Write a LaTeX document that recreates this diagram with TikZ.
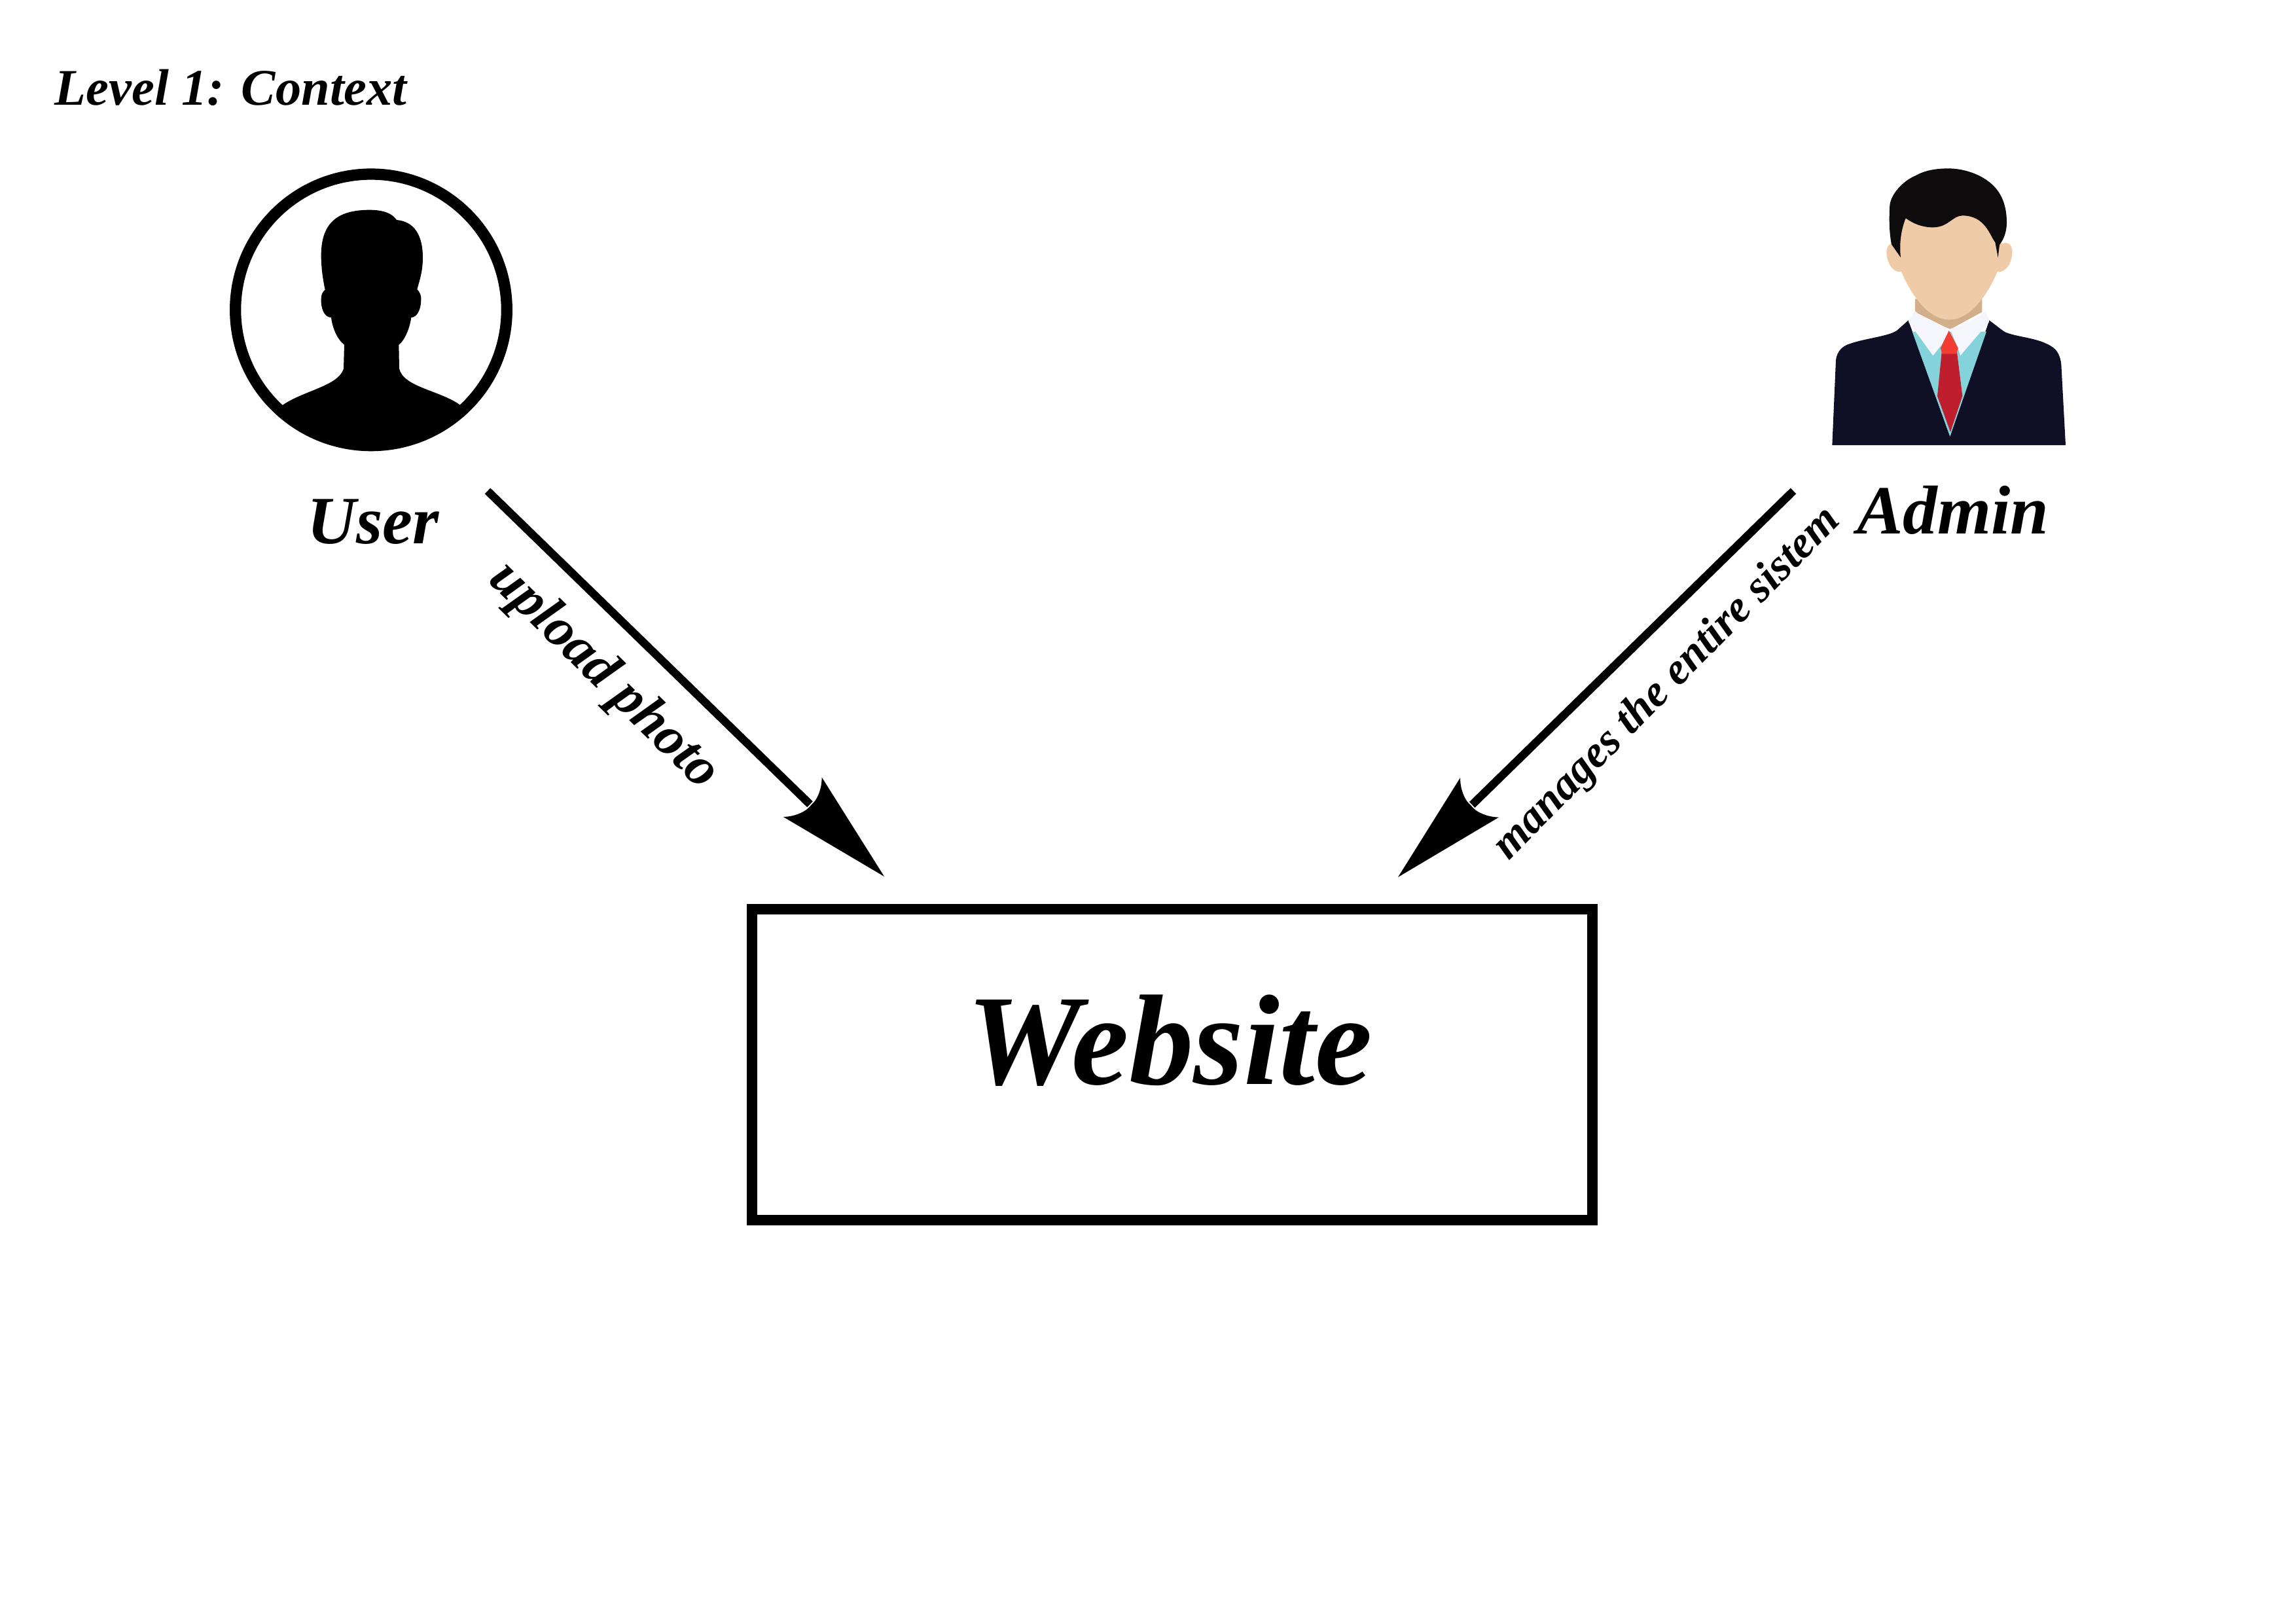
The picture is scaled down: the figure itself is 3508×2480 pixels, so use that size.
\documentclass[tikz,border=0pt]{standalone}
\usepackage{fontspec}
\setmainfont{Liberation Serif}
\usetikzlibrary{arrows.meta}
\definecolor{suit}{HTML}{0F1026}
\definecolor{shirt}{HTML}{84D2DA}
\definecolor{collar}{HTML}{F5F6FB}
\definecolor{neck}{HTML}{D2AE8A}
\definecolor{skin}{HTML}{EFCBA7}
\definecolor{hair}{HTML}{0E0C0C}
\definecolor{knot}{HTML}{F23D33}
\definecolor{tie}{HTML}{BE1E2D}
\pgfdeclarearrow{
  name=BarbTip,
  setup code={
    \pgfarrowssettipend{0pt}
    \pgfarrowssetlineend{-45pt}
    \pgfarrowssetvisualbackend{-45pt}
    \pgfarrowssetbackend{-49.5pt}
  },
  drawing code={
    \pgfpathmoveto{\pgfpoint{0pt}{0pt}}
    \pgfpathlineto{\pgfpoint{-49.5pt}{12pt}}
    \pgfpathcurveto{\pgfpoint{-46pt}{8.5pt}}{\pgfpoint{-44.4pt}{4pt}}{\pgfpoint{-44.4pt}{1.75pt}}
    \pgfpathlineto{\pgfpoint{-44.4pt}{-1.75pt}}
    \pgfpathcurveto{\pgfpoint{-44.4pt}{-4pt}}{\pgfpoint{-46pt}{-8.5pt}}{\pgfpoint{-49.5pt}{-12pt}}
    \pgfpathclose
    \pgfusepathqfill
  }
}
\tikzset{
  >=BarbTip,
  every node/.style={inner sep=0pt,font=\bfseries\itshape},
  flow/.style={->,line width=3.5pt},
  sysbox/.style={draw,line width=4.55pt,minimum width=12.84cm,minimum height=4.75cm},
  actorname/.style={font=\bfseries\itshape\fontsize{30}{34}\selectfont},
}
\begin{document}
\begin{tikzpicture}[x=0.01cm,y=-0.01cm]
  \useasboundingbox (0,0) rectangle (3508,2480);
  \node[anchor=west,font=\bfseries\itshape\fontsize{22.3}{26}\selectfont] (title) at (83,134) {Level 1: Context};
  % user icon
  \begin{scope}[shift={(320,230)},scale=1/3]
    \draw[line width=4.9pt] (741,730) circle[radius=622];
    \fill (335,1167) .. controls (430,1100) and (590,1080) .. (615,1000)
      -- (618,890) .. controls (585,865) and (563,810) .. (558,765)
      .. controls (525,765) and (510,720) .. (512,680)
      .. controls (512,660) and (520,645) .. (530,638)
      .. controls (518,580) and (512,530) .. (512,480)
      .. controls (512,320) and (600,272) .. (735,272)
      .. controls (800,272) and (840,290) .. (858,318)
      .. controls (940,325) and (978,390) .. (978,490)
      .. controls (978,550) and (965,590) .. (952,636)
      .. controls (965,650) and (972,665) .. (970,685)
      .. controls (970,730) and (950,765) .. (925,765)
      .. controls (918,815) and (895,870) .. (868,890)
      -- (870,1000) .. controls (890,1085) and (1060,1100) .. (1150,1167)
      arc[start angle=46.9,end angle=132.9,radius=648] -- cycle;
  \end{scope}
  % admin icon
  \begin{scope}[shift={(2740,230)},scale=1/3]
    \fill[suit] (178,1350) -- (195,960) .. controls (200,920) and (225,895) .. (260,885)
      .. controls (330,860) and (450,850) .. (480,820) -- (527,778) -- (718,1310) -- (898,778)
      -- (960,825) .. controls (990,850) and (1100,855) .. (1160,885)
      .. controls (1205,905) and (1222,930) .. (1228,980) -- (1248,1350) -- cycle;
    \fill[shirt] (545,830) -- (885,830) -- (718,1310) -- cycle;
    \fill[neck] (558,680) -- (865,680) -- (865,740) -- (718,820) -- (558,740) -- cycle;
    \fill[collar] (528,785) -- (555,733) .. controls (600,775) and (660,795) .. (718,818)
      -- (680,890) -- (640,940) -- cycle;
    \fill[collar] (898,785) -- (882,733) .. controls (840,775) and (780,795) .. (718,818)
      -- (755,905) -- (765,940) -- cycle;
    \fill[skin] (460,423) .. controls (420,425) and (420,480) .. (440,520)
      .. controls (455,550) and (480,560) .. (500,555) -- (500,430) -- cycle;
    \fill[skin] (975,423) .. controls (1010,425) and (1010,480) .. (990,520)
      .. controls (975,550) and (950,560) .. (930,555) -- (930,430) -- cycle;
    \fill[skin] (490,400) -- (495,555) .. controls (530,640) and (610,775) .. (715,775)
      .. controls (820,775) and (900,640) .. (935,555) -- (945,430) -- (900,320) -- (770,270)
      -- (515,290) -- cycle;
    \fill[hair] (492,490) -- (450,430) .. controls (440,380) and (438,320) .. (442,250)
      .. controls (448,200) and (500,140) .. (560,115)
      .. controls (600,92) and (650,82) .. (710,82)
      .. controls (790,82) and (880,115) .. (930,175)
      .. controls (962,215) and (978,265) .. (978,330)
      .. controls (978,380) and (960,412) .. (945,432)
      -- (938,490) -- (925,420) .. controls (900,390) and (880,298) .. (775,298)
      .. controls (730,298) and (710,352) .. (640,352)
      .. controls (590,352) and (550,335) .. (515,310)
      .. controls (495,360) and (485,420) .. (492,490) -- cycle;
    \fill[tie] (680,925) -- (750,925) -- (775,1125) -- (720,1290) -- (660,1125) -- cycle;
    \fill[knot] (713,825) -- (755,905) -- (748,932) -- (682,932) -- (675,905) -- cycle;
  \end{scope}
  \node[actorname,font=\bfseries\itshape\fontsize{29.4}{34}\selectfont] (user) at (570,797) {User};
  \node[actorname] (admin) at (2984,779) {Admin};
  \node[sysbox] (website) at (1791,1626.5) {};
  \node[font=\bfseries\itshape\fontsize{56}{62}\selectfont] (websitename) at (1787,1590) {Website};
  \coordinate (userfrom) at (745,750);
  \coordinate (userto) at (1351,1339);
  \coordinate (adminfrom) at (2740,750);
  \coordinate (adminto) at (2136,1340);
  \draw[flow] (userfrom) -- (userto);
  \draw[flow] (adminfrom) -- (adminto);
  \node[rotate=-44.5,font=\bfseries\itshape\fontsize{24}{28}\selectfont] (uploadlabel) at (922,1033) {upload photo};
  \node[rotate=45.5,font=\bfseries\itshape\fontsize{19.4}{23}\selectfont] (manageslabel) at (2548,1045) {manages the entire sistem};
\end{tikzpicture}
\end{document}
